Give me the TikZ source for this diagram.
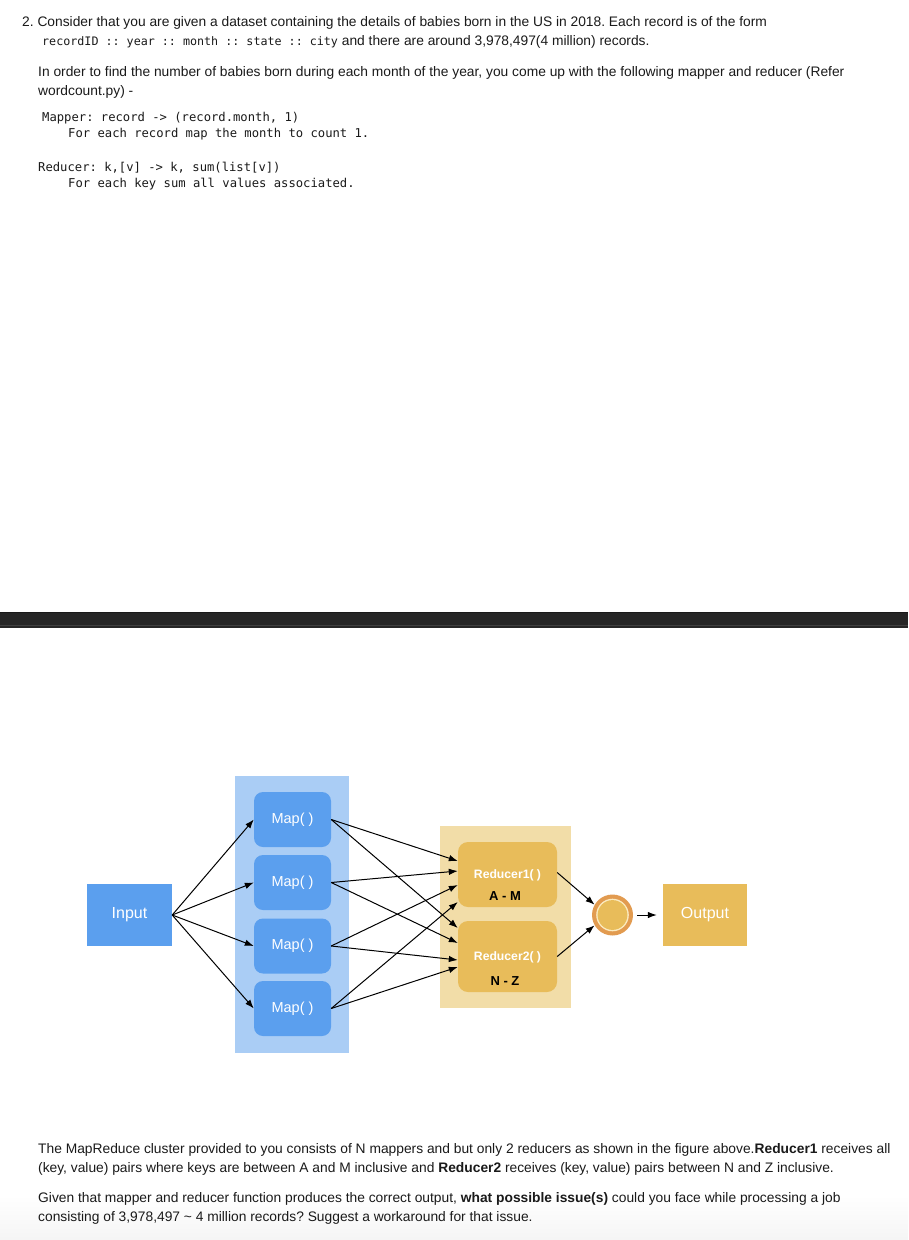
\documentclass[tikz,border=0pt]{standalone}
\usepackage{fontspec}
\setmainfont{Liberation Sans}
\newfontfamily\codefont{DejaVu Sans Mono}
\usetikzlibrary{arrows.meta,calc}
\frenchspacing

\definecolor{mapblue}{HTML}{5B9FEE}
\definecolor{colblue}{HTML}{AACDF5}
\definecolor{redgold}{HTML}{E8BC5A}
\definecolor{redbg}{HTML}{F2DDA8}
\definecolor{ringorange}{HTML}{E29B50}
\definecolor{ringcream}{HTML}{FBEBC0}
\definecolor{barblack}{HTML}{262626}
\definecolor{inkblack}{HTML}{1A1A1A}

\tikzset{
  txt/.style={anchor=base west, inner sep=0pt, text=inkblack,
    font=\fontsize{13.8}{16}\selectfont},
  codeline/.style={anchor=base west, inner sep=0pt, text=inkblack,
    font=\codefont\fontsize{12.2}{14}\selectfont},
  mapbox/.style={fill=mapblue, rounded corners=9pt, minimum width=77pt,
    minimum height=55pt, inner sep=0pt, text=white,
    font=\fontsize{14.5}{16}\selectfont},
  redbox/.style={fill=redgold, rounded corners=10pt, minimum width=99pt, inner sep=0pt},
  redtitle/.style={inner sep=0pt, text=white, font=\bfseries\fontsize{12.2}{14}\selectfont},
  redrange/.style={inner sep=0pt, text=black, font=\bfseries\fontsize{13}{14}\selectfont},
  endbox/.style={minimum width=85pt, minimum height=62pt, inner sep=0pt, text=white,
    font=\fontsize{16}{18}\selectfont},
  arr/.style={-{Latex[length=9pt,width=6.5pt]}, line width=1pt, draw=black},
}

\begin{document}
\begin{tikzpicture}[x=1pt, y=-1pt]
\useasboundingbox (0,0) rectangle (908,1240);
\fill[white] (0,0) rectangle (908,1240);

% ---- question text ----
\node[txt] (q1) at (22,26) {2. Consider that you are given a dataset containing the details of babies born in the US in 2018. Each record is of the form};
\node[txt] (q2) at (42,45) {{\codefont\fontsize{11.7}{14}\selectfont recordID :: year :: month :: state :: city}\ and there are around 3,978,497(4 million) records.};
\node[txt] (q3) at (38,76) {In order to find the number of babies born during each month of the year, you come up with the following mapper and reducer (Refer};
\node[txt] (q4) at (38,95) {wordcount.py) -};

% ---- pseudo code ----
\node[codeline] (c1) at (42,121.5) {Mapper: record -> (record.month, 1)};
\node[codeline] (c2) at (68,137) {For each record map the month to count 1.};
\node[codeline] (c3) at (38,171.5) {Reducer: k,[v] -> k, sum(list[v])};
\node[codeline] (c4) at (68,187) {For each key sum all values associated.};

% ---- separator bar ----
\fill[barblack] (0,612) rectangle (908,628);
\draw[black!90, line width=0.8pt] (0,612.4) -- (908,612.4);
\draw[black!75, line width=0.6pt] (0,625.5) -- (908,625.5);

% ---- MapReduce diagram ----
\node[fill=colblue, minimum width=114pt, minimum height=277pt, inner sep=0pt] (mapcol) at (292,914.5) {};
\node[fill=redbg, minimum width=131pt, minimum height=182pt, inner sep=0pt] (redcol) at (505.5,917) {};

\node[endbox, fill=mapblue] (in) at (129.5,915) {Input};

\node[mapbox] (m1) at (292.5,819.5) {Map( )};
\node[mapbox] (m2) at (292.5,882.5) {Map( )};
\node[mapbox] (m3) at (292.5,946) {Map( )};
\node[mapbox] (m4) at (292.5,1008.5) {Map( )};

\node[redbox, minimum height=65pt] (r1) at (507.5,874.5) {};
\node[redbox, minimum height=71pt] (r2) at (507.5,956.5) {};
\node[redtitle] (r1t) at (507.5,875) {Reducer1( )};
\node[redrange] (r1k) at (505,896) {A - M};
\node[redtitle] (r2t) at (507.5,957) {Reducer2( )};
\node[redrange] (r2k) at (505,981) {N - Z};

\node[circle, fill=ringorange, minimum size=41pt, inner sep=0pt] (mix) at (612.5,915) {};
\fill[ringcream] (mix.center) circle [radius=16.3pt];
\fill[redgold] (mix.center) circle [radius=14.9pt];

\node[endbox, fill=redgold, minimum width=84pt] (out) at (705,915) {Output};

% input to mappers
\foreach \m in {m1,m2,m3,m4}
  \draw[arr] (in.east) -- (\m.west);

% mappers to reducers
\draw[arr] (m1.east) -- ([yshift=13.5pt]r1.west);
\draw[arr] (m1.east) -- ([yshift=28.5pt]r2.west);
\draw[arr] (m2.east) -- ([yshift=3.5pt]r1.west);
\draw[arr] (m2.east) -- ([yshift=13.5pt]r2.west);
\draw[arr] (m3.east) -- ([yshift=-10.5pt]r1.west);
\draw[arr] (m3.east) -- ([yshift=-3.5pt]r2.west);
\draw[arr] (m4.east) -- ([yshift=-27.5pt]r1.west);
\draw[arr] (m4.east) -- ([yshift=-10.5pt]r2.west);

% reducers to merge, merge to output
\draw[arr] ([yshift=2pt]r1.east) -- (mix.150);
\draw[arr] (r2.east) -- (mix.210);
\draw[arr, shorten <=4pt, shorten >=6pt] (mix.east) -- (out.west);

% ---- closing text ----
\shade[top color=white, bottom color=black!4] (0,1195) rectangle (908,1240);
\node[txt] (b1) at (38,1153) {The MapReduce cluster provided to you consists of N mappers and but only 2 reducers as shown in the figure above.\textbf{Reducer1} receives all};
\node[txt] (b2) at (38,1172) {(key, value) pairs where keys are between A and M inclusive and \textbf{Reducer2} receives (key, value) pairs between N and Z inclusive.};
\node[txt] (b3) at (38,1202) {Given that mapper and reducer function produces the correct output, \textbf{what possible issue(s)} could you face while processing a job};
\node[txt] (b4) at (38,1221) {consisting of 3,978,497 \char`\~{} 4 million records? Suggest a workaround for that issue.};
\end{tikzpicture}
\end{document}
